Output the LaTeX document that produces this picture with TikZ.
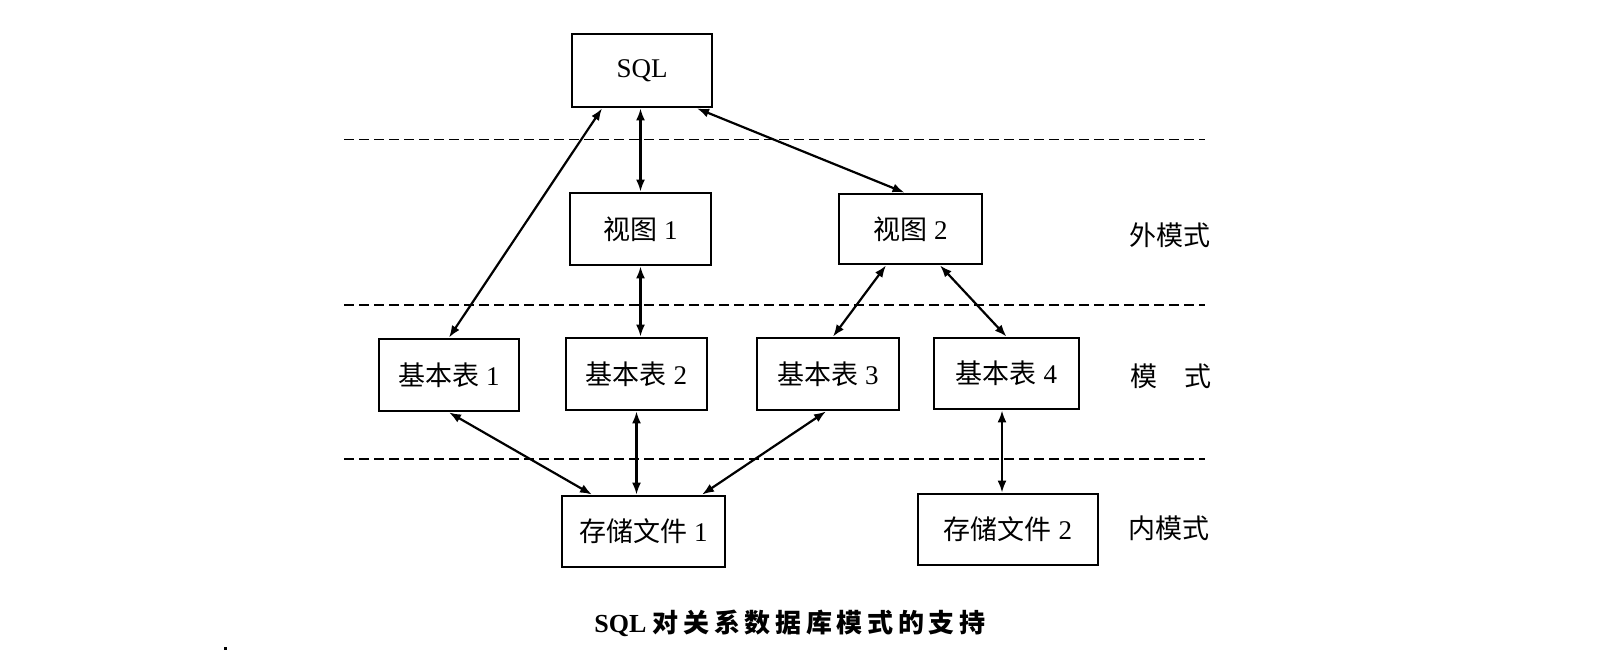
\documentclass[tikz,border=0pt]{standalone}
\usepackage{fontspec}
\setmainfont{Liberation Serif}
\newfontfamily\cjk{Noto Sans CJK SC}
\newfontfamily\cjkcap[LetterSpace=18]{Noto Sans CJK SC}
\usetikzlibrary{arrows.meta,calc}
\begin{document}
\begin{tikzpicture}[x=0.5pt,y=-0.5pt,
  box/.style={draw,line width=1.4pt,inner sep=0pt,font=\fontsize{13.5}{16}\selectfont},
  link/.style={line width=1.1pt,{Latex[length=6pt,width=4.5pt]}-{Latex[length=6pt,width=4.5pt]}},
  sepline/.style={line width=0.9pt,dash pattern=on 5pt off 2.5pt},
  lab/.style={font=\fontsize{13.5}{16}\selectfont\cjk}]
\useasboundingbox (0,0) rectangle (1620,663);
% separators
\draw[sepline] (344,139.5) -- (1205,139.5);
\draw[sepline] (344,305) -- (1205,305);
\draw[sepline] (344,459) -- (1205,459);
% boxes
\node[box,minimum width=70pt,minimum height=36.5pt] (sql) at (642,70.5) {\raisebox{-2pt}{SQL}};
\node[box,minimum width=70.5pt,minimum height=36pt] (v1) at (640.5,229) {{\cjk 视图}~1};
\node[box,minimum width=71.5pt,minimum height=35pt] (v2) at (910.5,229) {{\cjk 视图}~2};
\node[box,minimum width=70pt,minimum height=36pt] (b1) at (449,375) {{\cjk 基本表}~1};
\node[box,minimum width=70.5pt,minimum height=36pt] (b2) at (636.5,374) {{\cjk 基本表}~2};
\node[box,minimum width=71pt,minimum height=36pt] (b3) at (828,374) {{\cjk 基本表}~3};
\node[box,minimum width=72.5pt,minimum height=35.5pt] (b4) at (1006.5,373.5) {{\cjk 基本表}~4};
\node[box,minimum width=81.5pt,minimum height=35.5pt] (f1) at (643.5,531.5) {{\cjk 存储文件}~1};
\node[box,minimum width=90pt,minimum height=35.5pt] (f2) at (1008,529.5) {{\cjk 存储文件}~2};
% level labels
\node[lab] (ext) at (1170,235) {外模式};
\node[lab] (con) at (1171,376) {模\hspace{1em}式};
\node[lab] (int) at (1169,528) {内模式};
% connectors
\draw[link] ($(sql.south)+(-40,0)$) -- (b1.north);
\draw[link] (sql.south -| v1.south) -- (v1.north);
\draw[link] ($(sql.south)+(55,0)$) -- ($(v2.north)+(-6,0)$);
\draw[link] (v1.south) -- (v1.south |- b2.north);
\draw[link] ($(v2.south)+(-24.5,0)$) -- ($(b3.north)+(5,0)$);
\draw[link] ($(v2.south)+(29.5,0)$) -- (b4.north);
\draw[link] (b1.south) -- ($(f1.north)+(-51.5,0)$);
\draw[link] (b2.south) -- (b2.south |- f1.north);
\draw[link] ($(b3.south)+(-2,0)$) -- ($(f1.north)+(58.5,0)$);
\draw[link] ($(b4.south)+(-4.5,0)$) -- ($(f2.north)+(-6,0)$);
% caption
\node[font=\fontsize{13}{16}\selectfont\bfseries] (cap) at (790,623) {SQL {\cjkcap 对关系数据库模式的支持}};
\fill (224,647) rectangle (227,650);
\end{tikzpicture}
\end{document}
